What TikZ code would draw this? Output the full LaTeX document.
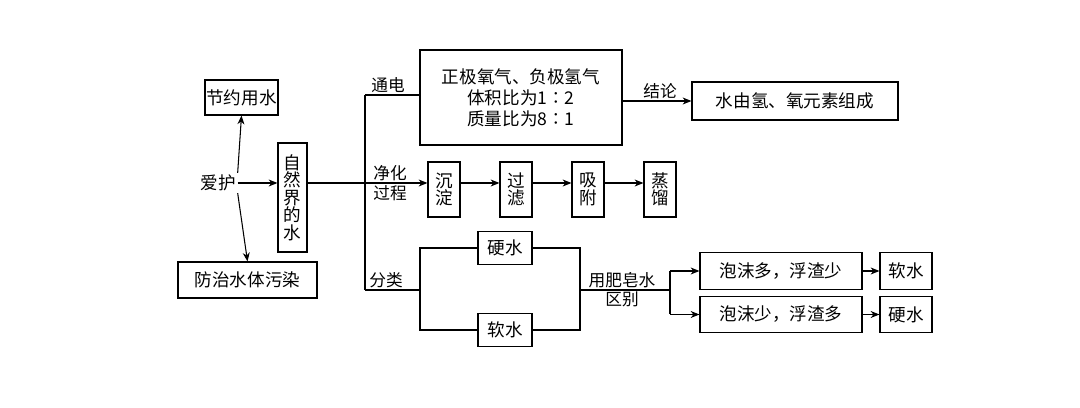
\documentclass[tikz,border=0pt]{standalone}
\usepackage{fontspec}
\setmainfont{Noto Sans CJK SC}
\usetikzlibrary{arrows.meta}
\begin{document}
\begin{tikzpicture}[x=0.02cm,y=-0.02cm,
  bx/.style={draw,line width=0.7pt,inner sep=0pt,font=\fontsize{10}{12}\selectfont},
  lb/.style={font=\fontsize{9.5}{11}\selectfont,inner sep=1pt},
  ar/.style={-{Stealth[length=5pt,width=4pt]},line width=0.6pt},
  ln/.style={line width=0.6pt}]
\useasboundingbox[fill=white] (0,0) rectangle (1080,408);
\node[bx,minimum width=73\pgflinewidth*0+1.46cm,minimum height=0.7cm] (jy) at (241.5,97.5) {节约用水};
\node[lb,font=\fontsize{10}{12}\selectfont] (ah) at (218,183) {爱护};
\node[bx,minimum width=2.78cm,minimum height=0.72cm] (fz) at (247.5,280) {防治水体污染};
\node[bx,minimum width=0.58cm,minimum height=2.18cm,align=center] (zr) at (292.5,197.5) {自\\[-2pt]然\\[-2pt]界\\[-2pt]的\\[-2pt]水};
\draw[ar] (ah.north east) -- (jy.south);
\draw[ar] (ah.south east) -- (fz.north);
\draw[ar] (ah.east) -- (zr.west |- ah.east);
\coordinate (b1) at (365,183);
\draw[ln] (zr.east |- b1) -- (b1);
\coordinate (t1) at (365,95); \coordinate (t3) at (365,290);
\draw[ln] (t1) -- (t3);
\node[bx,minimum width=4.04cm,minimum height=1.9cm,align=center] (zj) at (521,97.5) {正极氧气、负极氢气\\体积比为1∶2\\质量比为8∶1};
\draw[ln] (t1) -- (zj.west |- t1);
\node[lb,above] at (388,95) {通电};
\node[bx,minimum width=4.12cm,minimum height=0.76cm] (sy) at (795,101) {水由氢、氧元素组成};
\draw[ar] (zj.east |- sy) -- (sy.west);
\node[lb,above] at (660,101) {结论};
\node[bx,minimum width=0.64cm,minimum height=1.1cm,align=center] (cd) at (444,189.5) {沉\\[-2pt]淀};
\node[bx,minimum width=0.64cm,minimum height=1.1cm,align=center] (gl) at (516,189.5) {过\\[-2pt]滤};
\node[bx,minimum width=0.64cm,minimum height=1.1cm,align=center] (xf) at (588,189.5) {吸\\[-2pt]附};
\node[bx,minimum width=0.64cm,minimum height=1.1cm,align=center] (zl) at (660,189.5) {蒸\\[-2pt]馏};
\draw[ar] (b1) -- (cd.west |- b1);
\draw[ar] (cd.east |- b1) -- (gl.west |- b1);
\draw[ar] (gl.east |- b1) -- (xf.west |- b1);
\draw[ar] (xf.east |- b1) -- (zl.west |- b1);
\node[lb,above] at (390,183) {净化};
\node[lb,below] at (390,183) {过程};
\coordinate (f1) at (420,290);
\draw[ln] (t3) -- (f1);
\node[lb,above] at (386,290) {分类};
\node[bx,minimum width=1.08cm,minimum height=0.66cm] (yw) at (505,248) {硬水};
\node[bx,minimum width=1.08cm,minimum height=0.66cm] (rw) at (505,330) {软水};
\coordinate (f2) at (580,290);
\draw[ln] (yw.west) -| (f1) |- (rw.west);
\draw[ln] (yw.east) -| (f2) |- (rw.east);
\coordinate (f3) at (670,290);
\draw[ln] (f2) -- (f3);
\node[lb,above] at (622,290) {用肥皂水};
\node[lb,below] at (622,290) {区别};
\node[bx,minimum width=3.24cm,minimum height=0.74cm] (pm1) at (781,271) {泡沫多，浮渣少};
\node[bx,minimum width=3.24cm,minimum height=0.72cm] (pm2) at (781,314.5) {泡沫少，浮渣多};
\draw[ln] (pm1.west -| f3) -- (pm2.west -| f3);
\draw[ar] (pm1.west -| f3) -- (pm1.west);
\draw[ar] (pm2.west -| f3) -- (pm2.west);
\node[bx,minimum width=1.04cm,minimum height=0.74cm] (r2) at (906,271) {软水};
\node[bx,minimum width=1.04cm,minimum height=0.72cm] (y2) at (906,314.5) {硬水};
\draw[ar] (pm1.east) -- (r2.west);
\draw[ar] (pm2.east) -- (y2.west);
\end{tikzpicture}
\end{document}
